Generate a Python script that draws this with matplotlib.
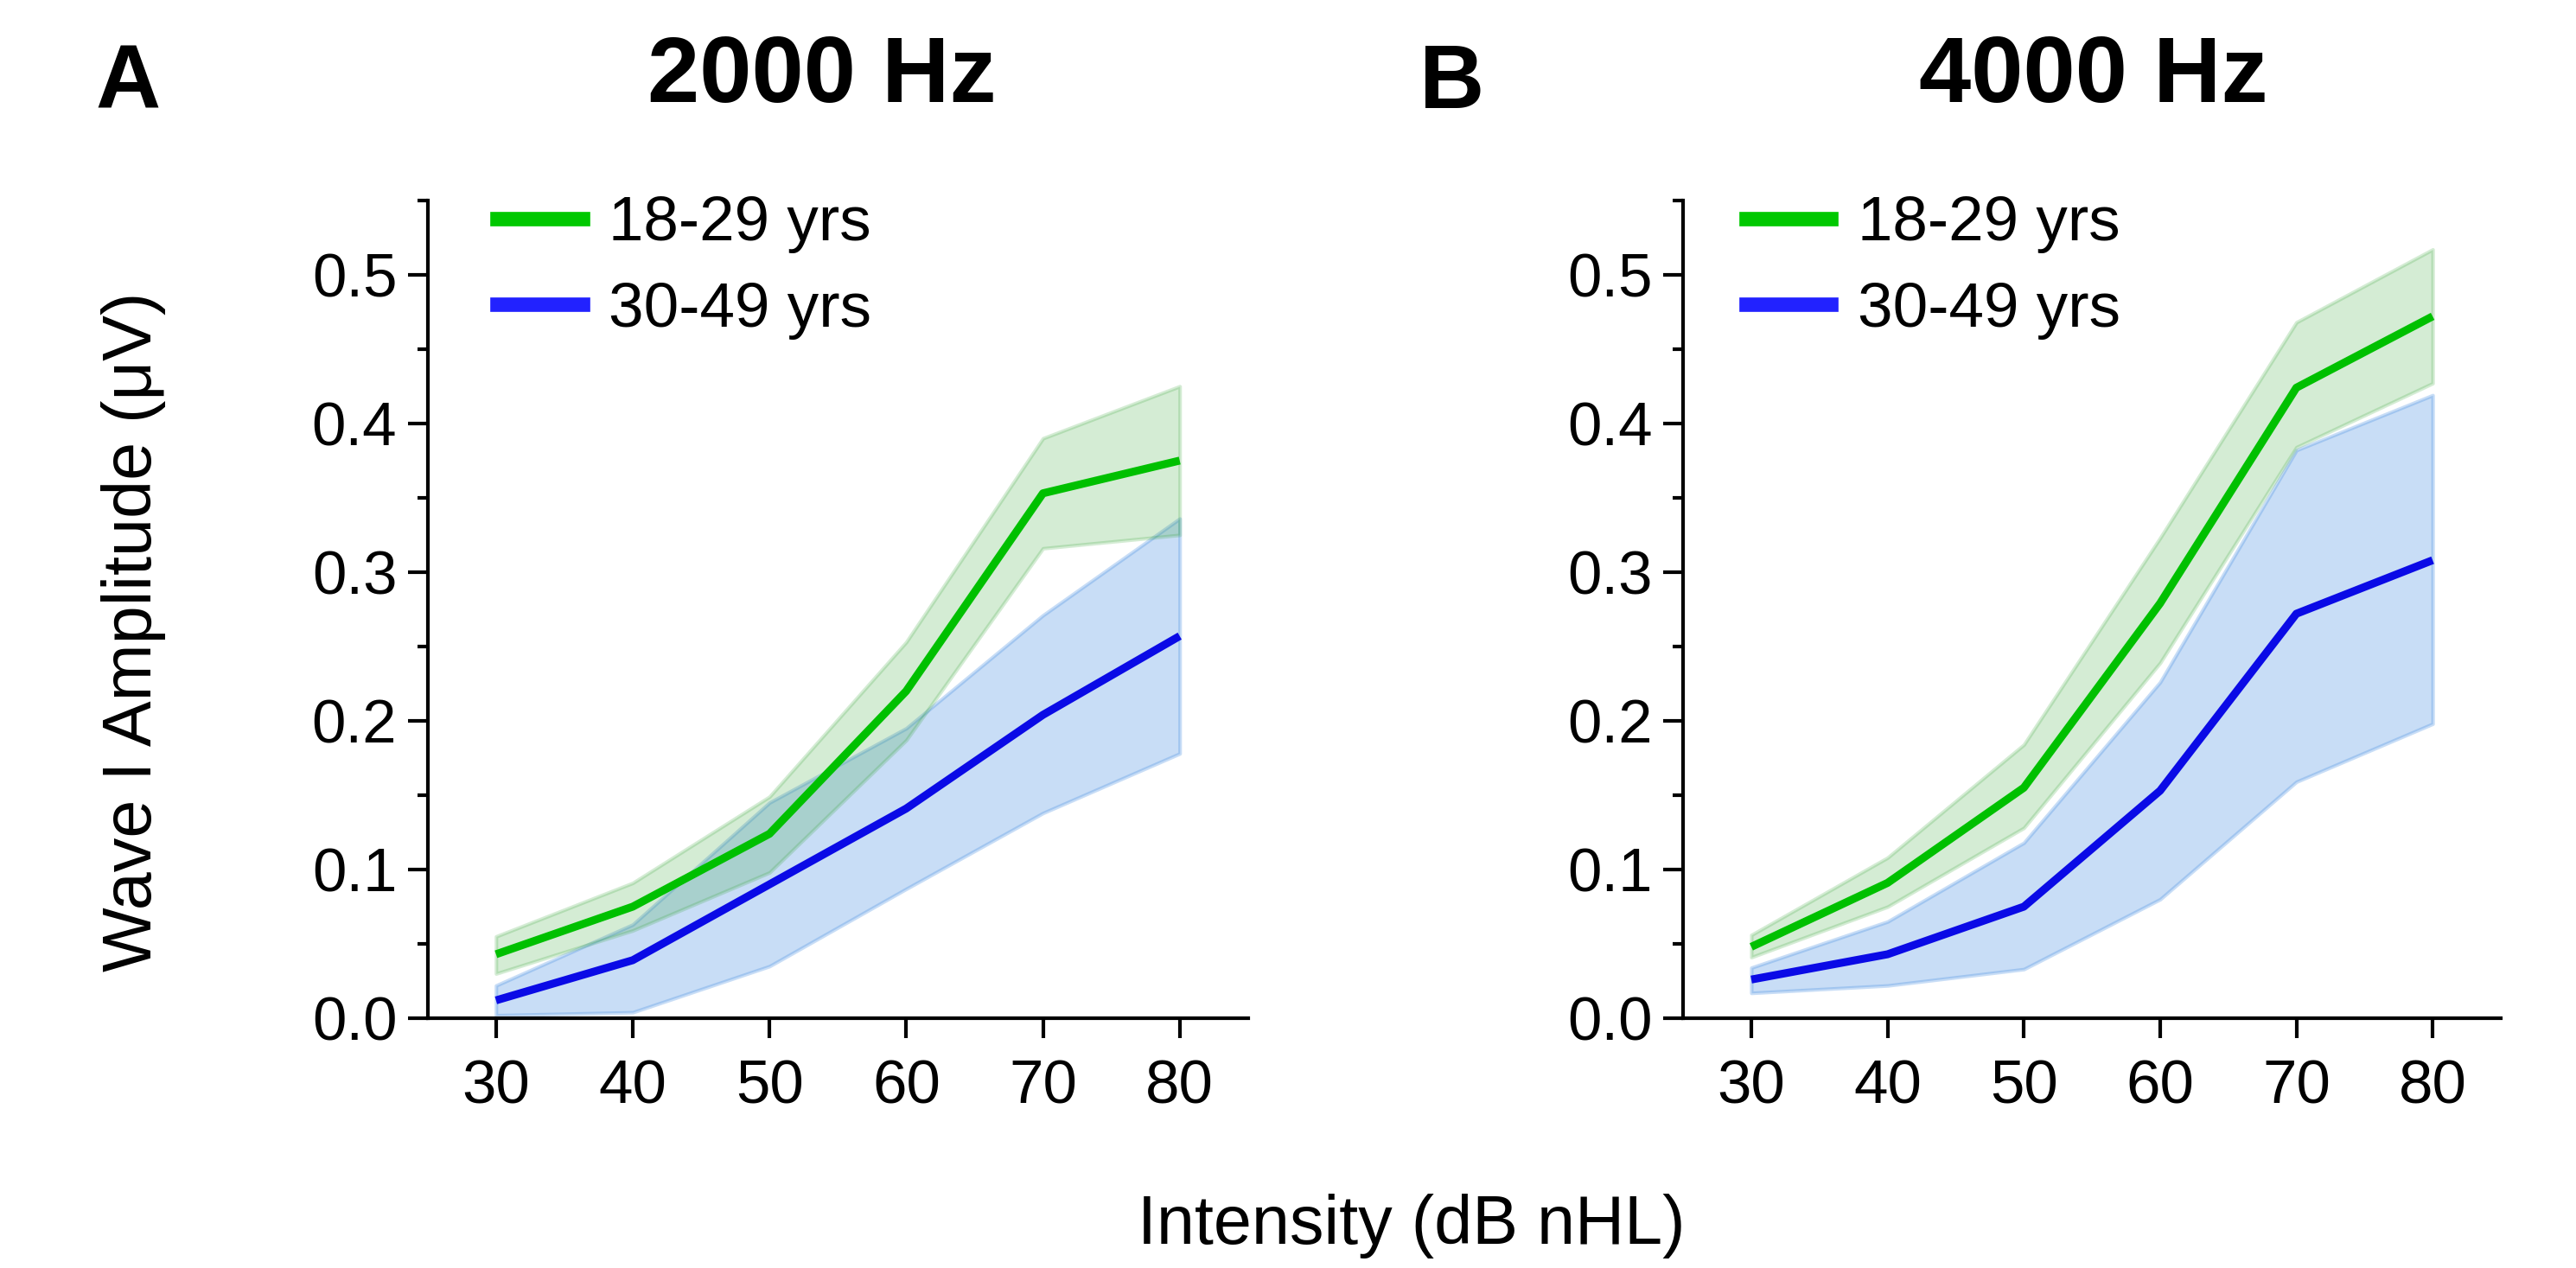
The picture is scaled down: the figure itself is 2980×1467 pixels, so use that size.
import matplotlib
matplotlib.use("Agg")
import matplotlib.pyplot as plt
from matplotlib.lines import Line2D

plt.rcParams['font.family'] = ['Liberation Sans', 'DejaVu Sans']

# intensities (dB nHL)
intensity = [30, 40, 50, 60, 70, 80]
groups = ['18-29 yrs', '30-49 yrs']

# panel A, 2000 Hz: mean and band limits
a_young = [0.043, 0.075, 0.124, 0.220, 0.353, 0.375]
a_young_hi = [0.055, 0.091, 0.149, 0.253, 0.390, 0.425]
a_young_lo = [0.030, 0.059, 0.098, 0.187, 0.316, 0.325]
a_mid = [0.012, 0.039, 0.090, 0.141, 0.204, 0.257]
a_mid_hi = [0.022, 0.063, 0.145, 0.195, 0.271, 0.336]
a_mid_lo = [0.002, 0.004, 0.035, 0.087, 0.138, 0.178]

# panel B, 4000 Hz
b_young = [0.048, 0.091, 0.155, 0.279, 0.424, 0.472]
b_young_hi = [0.056, 0.108, 0.184, 0.323, 0.468, 0.517]
b_young_lo = [0.041, 0.075, 0.128, 0.239, 0.384, 0.427]
b_mid = [0.026, 0.043, 0.075, 0.153, 0.272, 0.308]
b_mid_hi = [0.034, 0.065, 0.118, 0.226, 0.382, 0.419]
b_mid_lo = [0.017, 0.022, 0.033, 0.080, 0.159, 0.198]

green_line, green_fill, green_leg = '#00c000', '#2ca02c', '#00c800'
blue_line, blue_fill, blue_leg = '#0a0ae6', '#4a90e2', '#2222ff'

fig = plt.figure(figsize=(2980 / 300, 1467 / 300), dpi=300)
axA = fig.add_axes([0.166, 0.197, 0.3185, 0.645])
axB = fig.add_axes([0.6534, 0.197, 0.3174, 0.645])


def panel(ax, young, young_hi, young_lo, mid, mid_hi, mid_lo, leg_x):
    ax.fill_between(intensity, mid_lo, mid_hi, color=blue_fill, alpha=0.3, lw=1)
    ax.fill_between(intensity, young_lo, young_hi, color=green_fill, alpha=0.2, lw=1)
    ax.plot(intensity, young, color=green_line, lw=2.2, solid_capstyle='butt')
    ax.plot(intensity, mid, color=blue_line, lw=2.2, solid_capstyle='butt')
    ax.set_xlim(25, 85)
    ax.set_ylim(0, 0.55)
    ax.set_xticks(intensity)
    ax.set_yticks([0, 0.1, 0.2, 0.3, 0.4, 0.5])
    ax.set_yticks([0.05, 0.15, 0.25, 0.35, 0.45, 0.55], minor=True)
    ax.set_yticklabels(['0.0', '0.1', '0.2', '0.3', '0.4', '0.5'])
    for s in ['top', 'right']:
        ax.spines[s].set_visible(False)
    for s in ['left', 'bottom']:
        ax.spines[s].set_linewidth(1.0)
    ax.tick_params(axis='both', which='major', direction='out', length=5.5,
                   width=1.0, labelsize=17)
    ax.tick_params(axis='y', which='major', pad=3)
    ax.tick_params(axis='x', which='major', pad=6)
    ax.tick_params(axis='y', which='minor', direction='out', length=3, width=1.0)
    handles = [Line2D([], [], color=green_leg, lw=4),
               Line2D([], [], color=blue_leg, lw=4)]
    ax.legend(handles, groups, loc='upper left', bbox_to_anchor=(leg_x, 1.006),
              frameon=False, fontsize=17.5, handlelength=1.35, handletextpad=0.42,
              labelspacing=0.45, borderaxespad=0, borderpad=0)


panel(axA, a_young, a_young_hi, a_young_lo, a_mid, a_mid_hi, a_mid_lo, 0.085)
panel(axB, b_young, b_young_hi, b_young_lo, b_mid, b_mid_hi, b_mid_lo, 0.077)

fig.text(0.319, 0.9195, '2000 Hz', fontsize=26, fontweight='bold', ha='center', va='baseline')
fig.text(0.8125, 0.9195, '4000 Hz', fontsize=26, fontweight='bold', ha='center', va='baseline')
fig.text(0.037, 0.915, 'A', fontsize=25, fontweight='bold', ha='left', va='baseline')
fig.text(0.551, 0.915, 'B', fontsize=25, fontweight='bold', ha='left', va='baseline')
fig.text(0.052, 0.502, 'Wave I Amplitude (μV)', fontsize=19, rotation=90, ha='center', va='center')
fig.text(0.548, 0.033, 'Intensity (dB nHL)', fontsize=19, ha='center', va='center')

fig.savefig('out.png', dpi=300)
